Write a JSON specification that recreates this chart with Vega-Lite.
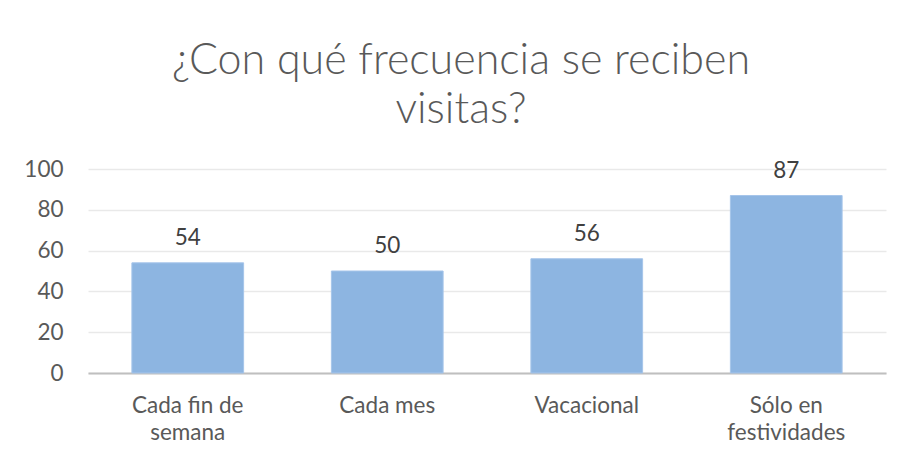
{
  "$schema": "https://vega.github.io/schema/vega-lite/v6.json",
  "width": 798,
  "height": 204,
  "autosize": {"type": "none"},
  "padding": {"left": 88, "top": 169, "right": 18, "bottom": 84},
  "background": "white",
  "title": {
    "text": ["¿Con qué frecuencia se reciben", "visitas?"],
    "font": "Lato",
    "fontWeight": 300,
    "fontSize": 43,
    "lineHeight": 49,
    "color": "#595959",
    "anchor": "middle",
    "dx": -26,
    "offset": 26
  },
  "data": {
    "values": [
      {"categoria": "Cada fin de semana", "valor": 54},
      {"categoria": "Cada mes", "valor": 50},
      {"categoria": "Vacacional", "valor": 56},
      {"categoria": "Sólo en festividades", "valor": 87}
    ]
  },
  "encoding": {
    "x": {
      "field": "categoria",
      "type": "nominal",
      "sort": null,
      "scale": {"paddingInner": 0.44, "paddingOuter": 0.22},
      "axis": {
        "title": null,
        "labelAngle": 0,
        "ticks": false,
        "domainColor": "#bfbfbf",
        "domainWidth": 2,
        "labelFont": "Lato",
        "labelFontSize": 22.5,
        "labelColor": "#595959",
        "labelBaseline": "alphabetic",
        "labelPadding": 39,
        "labelLineHeight": 27,
        "labelExpr": "datum.label == 'Cada fin de semana' ? ['Cada fin de', 'semana'] : datum.label == 'Sólo en festividades' ? ['Sólo en', 'festividades'] : datum.label"
      }
    },
    "y": {
      "field": "valor",
      "type": "quantitative",
      "scale": {"domain": [0, 100]},
      "axis": {
        "title": null,
        "values": [0, 20, 40, 60, 80, 100],
        "domain": false,
        "ticks": false,
        "gridColor": "#e9e9e9",
        "gridWidth": 1.5,
        "labelFont": "Lato",
        "labelFontSize": 22.5,
        "labelColor": "#595959",
        "labelPadding": 25
      }
    }
  },
  "layer": [
    {
      "mark": {"type": "bar", "color": "#8db5e1", "stroke": "#a6c5ea", "strokeWidth": 1}
    },
    {
      "mark": {"type": "text", "baseline": "alphabetic", "dy": -18, "font": "Lato", "fontSize": 22.5, "color": "#404040"},
      "encoding": {"text": {"field": "valor", "type": "quantitative"}}
    }
  ],
  "config": {"view": {"stroke": null}}
}
